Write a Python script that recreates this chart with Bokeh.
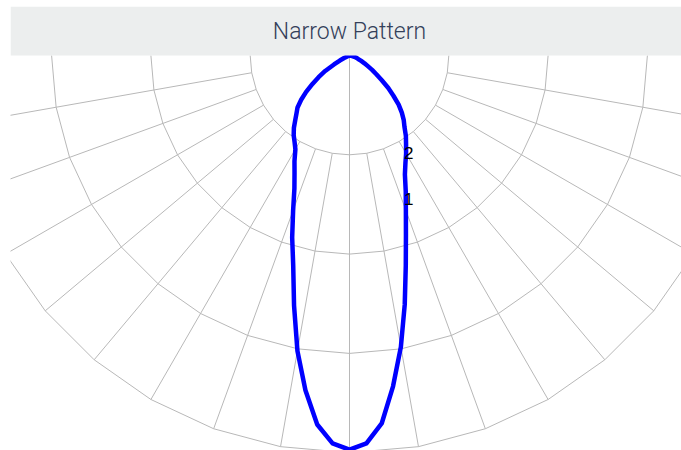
import numpy as np
from bokeh.plotting import figure
from bokeh.models import Range1d, BoxAnnotation, Label
from bokeh.embed import file_html
from bokeh.resources import INLINE

# ---- data -------------------------------------------------------------
title_text = "Narrow Pattern"
angles = [-90, -80, -72.5, -70, -67.5, -65, -62.5, -60, -57.5, -55, -52.5, -50,
          -47.5, -45, -42.5, -40, -37.5, -35, -32.5, -30, -27.5, -25, -22.5, -20,
          -17.5, -15, -12.5, -10, -7.5, -5, -2.5, 0, 2.5, 5, 7.5, 10, 12.5, 15,
          17.5, 20, 22.5, 25, 27.5, 30, 32.5, 35, 37.5, 40, 42.5, 45, 47.5, 50,
          52.5, 55, 57.5, 60, 62.5, 65, 67.5, 70, 72.5, 75, 80, 90]
intensity = [0.0, 0.0, 0.0, 0.01, 0.03, 0.06, 0.11, 0.18, 0.29, 0.38, 0.47, 0.57,
             0.66, 0.74, 0.79, 0.85, 0.92, 0.98, 1.03, 1.09, 1.20, 1.31, 1.45, 1.66,
             1.92, 2.19, 2.58, 3.02, 3.40, 3.73, 3.91, 3.97, 3.91, 3.72, 3.36, 2.98,
             2.57, 2.19, 1.89, 1.66, 1.48, 1.32, 1.22, 1.14, 1.06, 0.99, 0.91, 0.85,
             0.78, 0.70, 0.60, 0.51, 0.41, 0.33, 0.27, 0.21, 0.17, 0.13, 0.10, 0.08,
             0.07, 0.05, 0.02, 0.0]
ring_values = [1, 2, 3, 4]
ring_angles = [-90, -80, -70, -60, -50, -40, -30, -20, -10, 0,
               10, 20, 30, 40, 50, 60, 70, 80, 90]
spoke_angles = [-80, -70, -60, -50, -40, -30, -20, -10,
                10, 20, 30, 40, 50, 60, 70, 80]
marker_labels = ["2", "1"]

# ---- layout -----------------------------------------------------------
U = 99.3            # pixels per unit
W, H = 681, 450
BL, BT = 10, 6      # left / top borders
FW, FH = W - BL, H - BT
cx, cy = 339, 49    # center in frame pixels

p = figure(width=W, height=H, output_backend="svg", toolbar_location=None,
           x_range=Range1d(-cx / U, (FW - cx) / U),
           y_range=Range1d(-(FH - cy) / U, cy / U),
           x_axis_type=None, y_axis_type=None,
           min_border_left=BL, min_border_right=0,
           min_border_top=BT, min_border_bottom=0)
p.outline_line_color = None
p.background_fill_color = "white"
p.border_fill_color = "white"

grid_color = "#b8b8b8"

def polar(r, a):
    t = np.radians(np.asarray(a, dtype=float))
    r = np.asarray(r, dtype=float)
    return r * np.sin(t), -r * np.cos(t)

# rings (polygonal)
rx, ry = [], []
for rv in ring_values:
    x, y = polar([rv] * len(ring_angles), ring_angles)
    rx.append(list(x)); ry.append(list(y))
p.multi_line(rx, ry, line_color=grid_color, line_width=1)

# spokes
sx, sy = [], []
for a in spoke_angles:
    x, y = polar([ring_values[0], ring_values[-1]], [a, a])
    sx.append(list(x)); sy.append(list(y))
x, y = polar([0, ring_values[-1]], [0, 0])
sx.append(list(x)); sy.append(list(y))
p.multi_line(sx, sy, line_color=grid_color, line_width=1)

# curve
cxs, cys = polar(intensity, angles)
p.line(cxs, cys, line_color="#0000ff", line_width=4.5, line_join="round")

# title band
band = BoxAnnotation(bottom=0, fill_color="#eceeee", fill_alpha=1.0,
                     line_color=None)
p.add_layout(band)
p.add_layout(Label(x=0, y=0, y_offset=24, text=title_text,
                   text_align="center", text_baseline="middle",
                   text_font="Roboto Light, Lato, sans-serif",
                   text_font_size="23px", text_color="#34405a"))

# small labels
p.add_layout(Label(x=0.55, y=-0.977, text=marker_labels[0], text_align="left",
                   text_baseline="middle", text_font="Liberation Sans",
                   text_font_size="17px", text_color="black"))
p.add_layout(Label(x=0.55, y=-1.45, text=marker_labels[1], text_align="left",
                   text_baseline="middle", text_font="Liberation Sans",
                   text_font_size="17px", text_color="black"))

open("out.html", "w").write(file_html(p, INLINE))
